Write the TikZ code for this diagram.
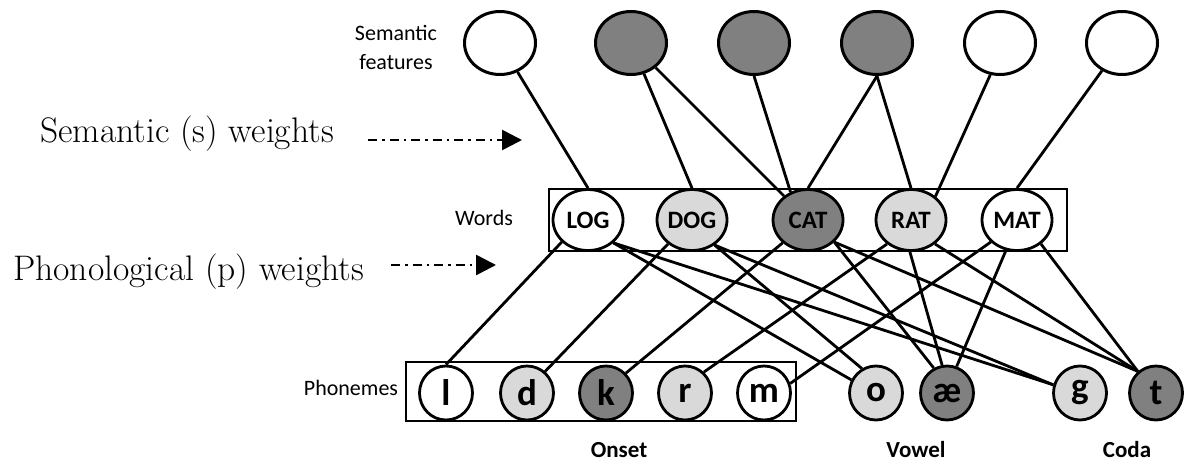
\documentclass[tikz,border=0pt]{standalone}
\usepackage{fontspec}
\newfontfamily\carl{Carlito}
\usetikzlibrary{arrows.meta,shapes.geometric}
\definecolor{dk}{HTML}{808080}
\definecolor{lt}{HTML}{D9D9D9}
\begin{document}
\begin{tikzpicture}[x=1pt,y=-1pt,
  sem/.style={draw, ellipse, line width=3pt, minimum width=71pt, minimum height=63pt, inner sep=0pt},
  word/.style={draw, ellipse, line width=2.8pt, minimum width=70pt, minimum height=61pt, inner sep=0pt, font=\carl\bfseries\fontsize{25}{25}\selectfont},
  phon/.style={draw, ellipse, line width=2.8pt, minimum width=53pt, minimum height=54pt, inner sep=0pt, font=\carl\bfseries\fontsize{37}{37}\selectfont},
  link/.style={line width=2.8pt},
  grp/.style={draw, line width=2.6pt, inner sep=0pt},
  wt/.style={line width=2.6pt, dash pattern=on 9pt off 5pt on 2.5pt off 5pt, -{Triangle[length=20pt,width=20pt]}},
  dkf/.style={fill=dk}, ltf/.style={fill=lt}, whf/.style={fill=white},
  lab/.style={font=\carl\fontsize{22}{29}\selectfont, align=center},
  grplab/.style={font=\carl\bfseries\fontsize{23}{23}\selectfont},
  big/.style={font=\fontsize{35.5}{40}\selectfont, anchor=west, inner sep=0pt}
]
\useasboundingbox (0,0) rectangle (1193,466);

% group boxes
\node[grp, minimum width=518pt, minimum height=62pt] (wordbox) at (808,220) {};
\node[grp, minimum width=390pt, minimum height=59pt] (phonbox) at (601,391.5) {};

% semantic features
\node[sem, whf] (s1) at (500,43) {};
\node[sem, dkf] (s2) at (631,43) {};
\node[sem, dkf] (s3) at (754,43) {};
\node[sem, dkf] (s4) at (877,43) {};
\node[sem, whf] (s5) at (1000,43) {};
\node[sem, whf] (s6) at (1122,43) {};

% words
\node[word, whf] (log) at (588,220) {LOG};
\node[word, ltf] (dog) at (692,220) {DOG};
\node[word, dkf] (cat) at (808,220) {CAT};
\node[word, ltf] (rat) at (911,220) {RAT};
\node[word, whf] (mat) at (1017,220) {MAT};

% phonemes
\node[phon, whf] (pl) at (446,393) {l};
\node[phon, ltf] (pd) at (527,393) {d};
\node[phon, dkf] (pk) at (606,393) {k};
\node[phon, ltf] (pr) at (685,393) {r};
\node[phon, whf] (pm) at (764,393) {m};
\node[phon, ltf] (po) at (876,393) {o};
\node[phon, dkf] (pae) at (947,393) {æ};
\node[phon, ltf] (pg) at (1080,393) {g};
\node[phon, dkf] (pt) at (1156,393) {t};

% semantic weights
\draw[link] (s1) -- (log.north);
\draw[link] (s2) -- (dog.north);
\draw[link] (s2) -- (cat);
\draw[link] (s3.south) -- (cat.122);
\draw[link] (s4.south) -- (cat.north);
\draw[link] (s4.south) -- (rat.north);
\draw[link] (s5.253) -- (rat.44);
\draw[link] (s6) -- (mat.north);

% phonological weights
\draw[link] (log.220) -- (pl.north);
\draw[link] (log.318) -- (po.152);
\draw[link] (log.318) -- (pg.163);
\draw[link] (dog.225) -- (pd.50);
\draw[link] (dog.312) -- (po.120);
\draw[link] (dog.312) -- (pg.163);
\draw[link] (cat.222) -- (pk.45);
\draw[link] (cat.320) -- (pae.118);
\draw[link] (cat.320) -- (pt.130);
\draw[link] (rat.225) -- (pr.48);
\draw[link] (rat.268) -- (pae.100);
\draw[link] (rat.315) -- (pt.130);
\draw[link] (mat.220) -- (pm.20);
\draw[link] (mat.250) -- (pae.70);
\draw[link] (mat.315) -- (pt.130);

% labels
\node[lab] (semlab) at (396,47) {Semantic\\features};
\node[lab] (wlab) at (484,218) {Words};
\node[lab] (plab) at (351,388) {Phonemes};
\node[grplab] (onset) at (619,450) {Onset};
\node[grplab] (vowel) at (916,450) {Vowel};
\node[grplab] (coda) at (1127,450) {Coda};

% weight arrows
\node[big] (stxt) at (40,134) {Semantic (s) weights};
\node[big] (ptxt) at (13,272) {Phonological (p) weights};
\coordinate (sa1) at (368,140);
\coordinate (sa2) at (522,140);
\coordinate (pa1) at (391,265);
\coordinate (pa2) at (496,265);
\draw[wt] (sa1) -- (sa2);
\draw[wt] (pa1) -- (pa2);
\end{tikzpicture}
\end{document}
